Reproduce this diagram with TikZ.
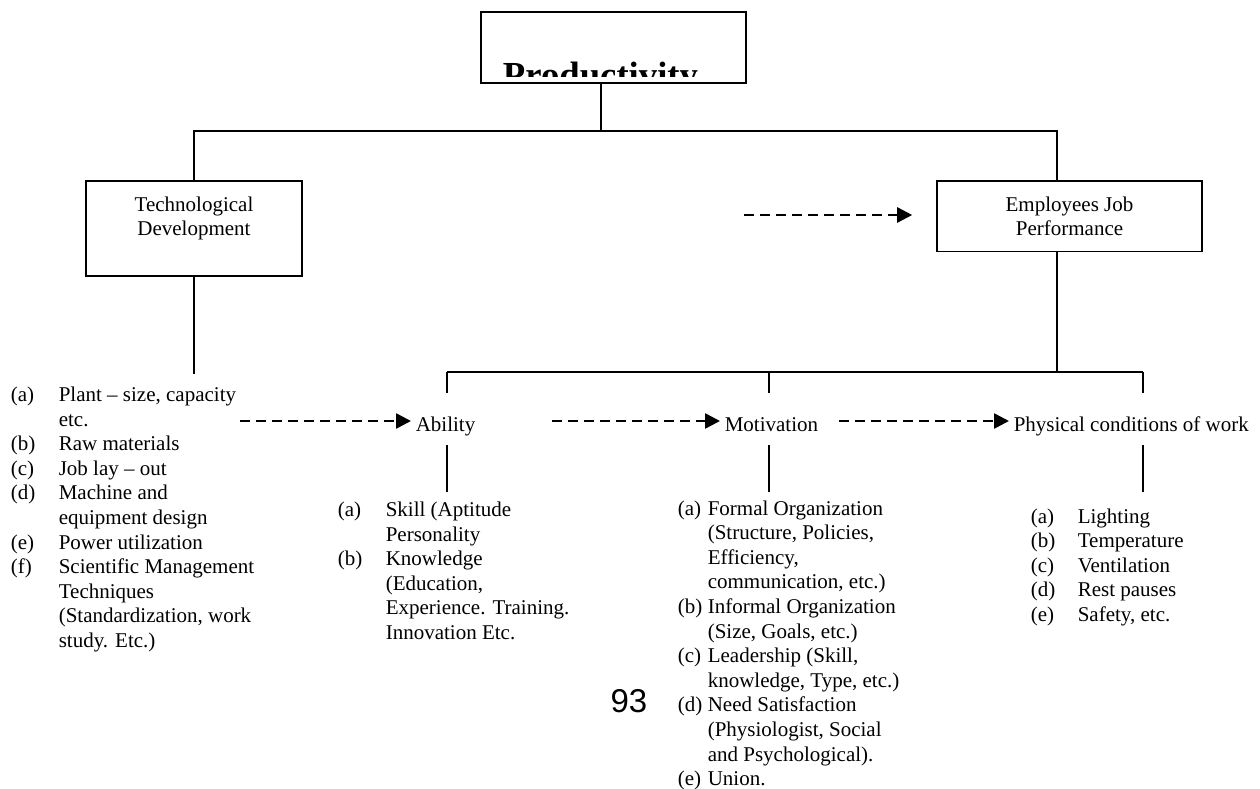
\documentclass[tikz,border=0pt]{standalone}
\usepackage{fontspec}
\setmainfont{Liberation Serif}
\newfontfamily\pagenumfont{Liberation Sans}
\usetikzlibrary{arrows.meta}
\newcommand{\txt}{\fontsize{21}{24.6}\selectfont}

\begin{document}
\begin{tikzpicture}[x=1pt,y=-1pt,line width=1.6pt,
  box/.style={draw,rectangle,align=center,font=\txt,inner xsep=4pt,inner ysep=15.7pt},
  lst/.style={font=\txt,inner sep=0pt,anchor=base west},
  lbl/.style={font=\txt,inner sep=4pt,anchor=base west},
  dasharrow/.style={line width=2.6pt,dash pattern=on 10pt off 6pt,-{Triangle[length=15pt,width=15pt]}}]
  \useasboundingbox (0,0) rectangle (1260,789);
  \node[draw,minimum width=265pt,minimum height=71pt,inner sep=0pt] (prod) at (613.5,47.5) {};
  \begin{scope}
    \clip (prod.north west) rectangle ([yshift=7pt]prod.south east);
    \node[font=\fontsize{36.7}{40}\selectfont\bfseries,anchor=base,inner sep=0pt] (prodtext) at (600.5,88) {Productivity};
  \end{scope}
  \node[box,minimum width=216pt,anchor=north] (tech) at (194,180) {Technological\\Development\\\mbox{}};
  \node[box,minimum width=265pt,anchor=north] (emp) at (1069.5,180) {Employees Job\\Performance};
  \coordinate (bus) at (601,131);
  \coordinate (empjoint) at (1057,131);
  \draw (prod.south -| bus) -- (bus);
  \draw (tech.north) |- (empjoint) -- (empjoint |- emp.north);
  \draw (tech.south) -- ++(0,97);
  \coordinate (ajoint) at (447,372);
  \coordinate (mjoint) at (769,372);
  \coordinate (pjoint) at (1143,372);
  \draw (emp.south -| empjoint) -- (empjoint |- ajoint);
  \draw (ajoint) -- (pjoint);
  \foreach \j in {ajoint,mjoint,pjoint} {
    \draw (\j) -- ++(0,21);
    \draw (\j) ++(0,73) -- ++(0,47);
  }
  \node[lbl] (ability) at (411,431) {Ability};
  \node[lbl] (motiv) at (720,431) {Motivation};
  \node[lbl] (phys) at (1009,431) {Physical conditions of work};
  \coordinate (a1) at (744,215);
  \coordinate (a2) at (240,421);
  \coordinate (a3) at (552,421);
  \coordinate (a4) at (839,421);
  \draw[dasharrow,shorten >=24pt] (a1) -- (a1 -| emp.west);
  \draw[dasharrow] (a2) -- (a2 -| ability.west);
  \draw[dasharrow] (a3) -- (a3 -| motiv.west);
  \draw[dasharrow] (a4) -- (a4 -| phys.west);
  \node[lst] (techlist) at (10,401.5) {\begin{tabular}[t]{@{}p{48pt}@{}l@{}}
    (a) & Plant -- size, capacity\\
        & etc.\\
    (b) & Raw materials\\
    (c) & Job lay -- out\\
    (d) & Machine and\\
        & equipment design\\
    (e) & Power utilization\\
    (f) & Scientific Management\\
        & Techniques\\
        & (Standardization, work\\
        & study. Etc.)
  \end{tabular}};
  \node[lst] (abillist) at (337,516.5) {\begin{tabular}[t]{@{}p{48pt}@{}l@{}}
    (a) & Skill (Aptitude\\
        & Personality\\
    (b) & Knowledge\\
        & (Education,\\
        & Experience. Training.\\
        & Innovation Etc.
  \end{tabular}};
  \node[lst] (motivlist) at (677,515) {\begin{tabular}[t]{@{}p{30pt}@{}l@{}}
    (a) & Formal Organization\\
        & (Structure, Policies,\\
        & Efficiency,\\
        & communication, etc.)\\
    (b) & Informal Organization\\
        & (Size, Goals, etc.)\\
    (c) & Leadership (Skill,\\
        & knowledge, Type, etc.)\\
    (d) & Need Satisfaction\\
        & (Physiologist, Social\\
        & and Psychological).\\
    (e) & Union.
  \end{tabular}};
  \node[lst] (physlist) at (1030,523) {\begin{tabular}[t]{@{}p{47pt}@{}l@{}}
    (a) & Lighting\\
    (b) & Temperature\\
    (c) & Ventilation\\
    (d) & Rest pauses\\
    (e) & Safety, etc.
  \end{tabular}};
  \node[font=\pagenumfont\fontsize{33}{36}\selectfont,anchor=base east,inner sep=0pt] (pagenum) at (648,712) {93};
\end{tikzpicture}
\end{document}
